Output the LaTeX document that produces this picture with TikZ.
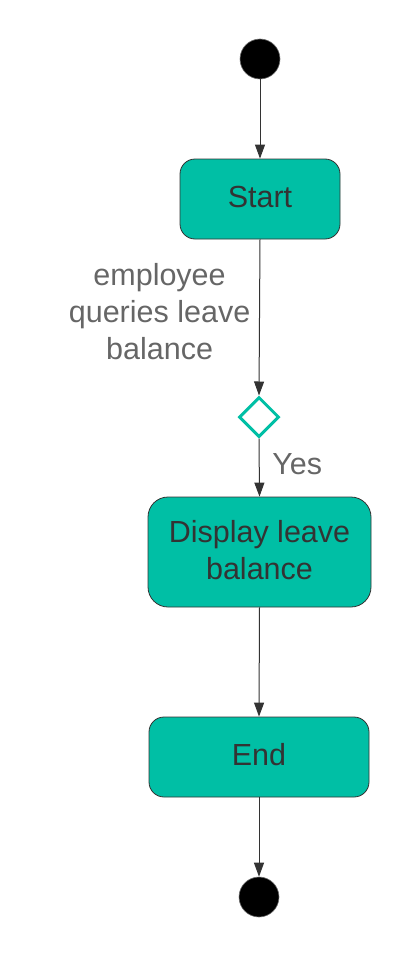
\documentclass[tikz,border=0pt]{standalone}
\usepackage{fontspec}
\setmainfont{Liberation Sans}
\usetikzlibrary{shapes.geometric,arrows.meta}
\definecolor{teal1}{HTML}{00BFA5}
\definecolor{dark}{HTML}{333333}
\definecolor{lbl}{HTML}{666666}
\tikzset{
  x=1pt, y=-1pt,
  dot/.style={circle, fill=black, draw=dark!70, line width=0.6pt, minimum size=40pt, inner sep=0pt},
  statebox/.style={rectangle, rounded corners=15pt, fill=teal1, draw=dark, line width=0.8pt,
    text=dark, font=\fontsize{30.5}{37.5}\selectfont, align=center, inner sep=0pt, text depth=4.5pt},
  decision/.style={diamond, aspect=1, draw=teal1, line width=3pt, fill=white,
    minimum width=40pt, minimum height=40pt, inner sep=0pt},
  flow/.style={draw=dark, line width=1pt, -{Triangle[length=14pt,width=10pt]}},
  edgelabel/.style={text=lbl, font=\fontsize{30.5}{37}\selectfont, align=center, inner sep=0pt}
}
\begin{document}
\begin{tikzpicture}
\useasboundingbox (0,0) rectangle (412,958);
\node[dot] (init) at (260,59) {};
\node[statebox, minimum width=160pt, minimum height=80pt] (start) at (260,199) {Start};
\node[decision] (dec) at (259,417) {};
\node[statebox, rounded corners=20pt, minimum width=223pt, minimum height=110pt] (disp) at (259.5,552) {Display leave\\balance};
\node[statebox, minimum width=220pt, minimum height=80pt] (end) at (259,757) {End};
\node[dot] (fin) at (259,897) {};
\draw[flow] (init) -- (start.north);
\draw[flow] (start.south) -- node[edgelabel, pos=0.43, xshift=-100pt, yshift=-5pt] (lab1) {employee\\queries leave\\balance} (dec.north);
\draw[flow] (dec.south) -- node[edgelabel, pos=0.45, xshift=38pt] (lab2) {Yes} (disp.north);
\draw[flow] (disp.south) -- (end.north);
\draw[flow] (end.south) -- (fin);
\end{tikzpicture}
\end{document}
